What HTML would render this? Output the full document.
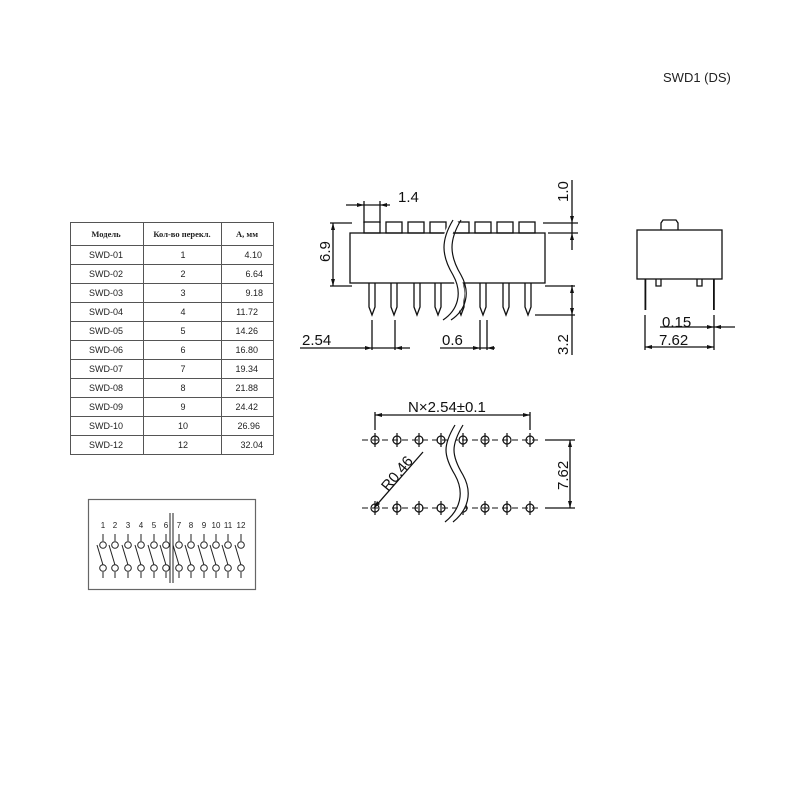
<!DOCTYPE html><html><head><style>body{margin:0;background:#fff}svg{display:block}</style></head><body>
<svg width="800" height="800" viewBox="0 0 800 800" xmlns="http://www.w3.org/2000/svg" font-family="Liberation Sans, sans-serif">
<rect width="800" height="800" fill="#fff"/>
<text x="663" y="82" font-size="13" fill="#222">SWD1 (DS)</text>
<g stroke="#111" stroke-width="1.3" fill="none">
<rect x="350" y="233" width="195" height="50"/>
<rect x="364" y="222" width="16" height="11"/><rect x="386" y="222" width="16" height="11"/><rect x="408" y="222" width="16" height="11"/><rect x="430" y="222" width="16" height="11"/><rect x="453" y="222" width="16" height="11"/><rect x="475" y="222" width="16" height="11"/><rect x="497" y="222" width="16" height="11"/><rect x="519" y="222" width="16" height="11"/>
<path d="M369 283v24l3 8l3-8v-24M391 283v24l3 8l3-8v-24M414 283v24l3 8l3-8v-24M435 283v24l3 8l3-8v-24M458 283v24l3 8l3-8v-24M480 283v24l3 8l3-8v-24M503 283v24l3 8l3-8v-24M525 283v24l3 8l3-8v-24"/>
<path d="M455 220c-12 20-12 35 0 55c10 18 5 35-10 45" stroke="#fff" stroke-width="8"/>
<path d="M453 220c-12 20-12 35 0 55c10 18 5 35-10 45M461 220c-12 20-12 35 0 55c10 18 5 35-10 45" stroke-width="1.2"/>
<path d="M346 205h44M364 201v22M380 201v22M330 223h22M330 286h22M333 223v63M543 223h35M548 233h30M572 180v70M545 286h30M535 315h40M572 285v70M372 320v30M395 320v30M300 348h110M440 348h55M480 320v30M487 320v30"/>
<rect x="637" y="230" width="85" height="49"/>
<path d="M661 230v-7l2-3h13l2 3v7M656 279v7h5v-7M697 279v7h5v-7"/>
<rect x="644.5" y="279" width="1.8" height="31" fill="#111" stroke="none"/><rect x="713" y="279" width="1.8" height="31" fill="#111" stroke="none"/>
<path d="M645 315v35M714 315v35M660 327h75M645 347h69"/>
<path d="M375 412v18M530 412v18M375 415h155M545 440h30M545 508h30M570 440v68M374 508L423 452" />
<path d="M362 440h180M362 508h180" stroke-dasharray="6 4" stroke-width="1"/>
<g stroke-width="1.2">
<circle cx="375" cy="440" r="4"/><circle cx="397" cy="440" r="4"/><circle cx="419" cy="440" r="4"/><circle cx="441" cy="440" r="4"/><circle cx="463" cy="440" r="4"/><circle cx="485" cy="440" r="4"/><circle cx="507" cy="440" r="4"/><circle cx="530" cy="440" r="4"/>
<circle cx="375" cy="508" r="4"/><circle cx="397" cy="508" r="4"/><circle cx="419" cy="508" r="4"/><circle cx="441" cy="508" r="4"/><circle cx="463" cy="508" r="4"/><circle cx="485" cy="508" r="4"/><circle cx="507" cy="508" r="4"/><circle cx="530" cy="508" r="4"/>
<path d="M375 433v14M397 433v14M419 433v14M441 433v14M463 433v14M485 433v14M507 433v14M530 433v14M375 501v14M397 501v14M419 501v14M441 501v14M463 501v14M485 501v14M507 501v14M530 501v14"/>
</g>
<path d="M459 425c-12 20-12 30 0 50c10 18 5 35-10 47" stroke="#fff" stroke-width="8"/>
<path d="M455 425c-12 20-12 30 0 50c10 18 5 35-10 47M463 425c-12 20-12 30 0 50c10 18 5 35-10 47" stroke-width="1.2"/>
</g>
<g fill="#111">
<path d="M364 205l-7-2v4zM380 205l7-2v4zM333 223l-2 7h4zM333 286l-2-7h4zM572 223l-2-7h4zM572 233l-2 7h4zM572 286l-2 7h4zM572 315l-2-7h4zM372 348l-7-2v4zM395 348l7-2v4zM480 348l-7-2v4zM487 348l7-2v4zM645 347l7-2v4zM714 347l-7-2v4zM714 327l7-2v4zM714 327l-7-2v4zM375 415l7-2v4zM530 415l-7-2v4zM570 440l-2 7h4zM570 508l-2-7h4zM374 508l3-7l3 3z"/>
</g>
<g font-size="15" fill="#111">
<text x="398" y="202">1.4</text>
<text x="302" y="345">2.54</text>
<text x="442" y="345">0.6</text>
<text x="662" y="327">0.15</text>
<text x="659" y="345">7.62</text>
<text x="408" y="412">N×2.54±0.1</text>
<text transform="translate(330,262) rotate(-90)">6.9</text>
<text transform="translate(568,202) rotate(-90)">1.0</text>
<text transform="translate(568,355) rotate(-90)">3.2</text>
<text transform="translate(568,490) rotate(-90)">7.62</text>
<text transform="translate(388,492) rotate(-50)">R0.46</text>
</g>
<g stroke="#555" stroke-width="1" fill="none">
<rect x="70.5" y="222.5" width="203" height="232"/>
<path d="M143.5 222v232M221.5 222v232M70 245.5h203M70 264.5h203M70 283.5h203M70 302.5h203M70 321.5h203M70 340.5h203M70 359.5h203M70 378.5h203M70 397.5h203M70 416.5h203M70 435.5h203"/>
</g>
<g font-family="Liberation Serif, serif" font-size="8.5" font-weight="bold" fill="#222" text-anchor="middle">
<text x="106" y="237">Модель</text><text x="182" y="237">Кол-во перекл.</text><text x="247" y="237">А, мм</text>
</g>
<g font-family="Liberation Sans, sans-serif" font-size="9" fill="#222">
<g text-anchor="start">
<text x="89" y="258">SWD-01</text><text x="89" y="277">SWD-02</text><text x="89" y="296">SWD-03</text><text x="89" y="315">SWD-04</text><text x="89" y="334">SWD-05</text><text x="89" y="353">SWD-06</text><text x="89" y="372">SWD-07</text><text x="89" y="391">SWD-08</text><text x="89" y="410">SWD-09</text><text x="89" y="429">SWD-10</text><text x="89" y="448">SWD-12</text>
</g>
<g text-anchor="middle">
<text x="183" y="258">1</text><text x="183" y="277">2</text><text x="183" y="296">3</text><text x="183" y="315">4</text><text x="183" y="334">5</text><text x="183" y="353">6</text><text x="183" y="372">7</text><text x="183" y="391">8</text><text x="183" y="410">9</text><text x="183" y="429">10</text><text x="183" y="448">12</text>
</g>
<g text-anchor="end">
<text x="262" y="258">4.10</text><text x="263" y="277">6.64</text><text x="263" y="296">9.18</text><text x="258" y="315">11.72</text><text x="258" y="334">14.26</text><text x="258" y="353">16.80</text><text x="258" y="372">19.34</text><text x="258" y="391">21.88</text><text x="258" y="410">24.42</text><text x="260" y="429">26.96</text><text x="263" y="448">32.04</text>
</g>
</g>
<rect x="88.5" y="499.5" width="167" height="90" fill="none" stroke="#666" stroke-width="1.2"/>
<g font-size="8" fill="#222" text-anchor="middle">
<text x="103" y="528">1</text><text x="115" y="528">2</text><text x="128" y="528">3</text><text x="141" y="528">4</text><text x="154" y="528">5</text><text x="166" y="528">6</text><text x="179" y="528">7</text><text x="191" y="528">8</text><text x="204" y="528">9</text><text x="216" y="528">10</text><text x="228" y="528">11</text><text x="241" y="528">12</text>
</g>
<g stroke="#222" stroke-width="1" fill="#fff">
<path d="M170 513v70M173 513v70" fill="none"/>
<path d="M103 534v7M103 572v6M97 545l6 20M115 534v7M115 572v6M109 545l6 20M128 534v7M128 572v6M122 545l6 20M141 534v7M141 572v6M135 545l6 20M154 534v7M154 572v6M148 545l6 20M166 534v7M166 572v6M160 545l6 20M179 534v7M179 572v6M173 545l6 20M191 534v7M191 572v6M185 545l6 20M204 534v7M204 572v6M198 545l6 20M216 534v7M216 572v6M210 545l6 20M228 534v7M228 572v6M222 545l6 20M241 534v7M241 572v6M235 545l6 20" fill="none"/>
<circle cx="103" cy="545" r="3.3"/><circle cx="115" cy="545" r="3.3"/><circle cx="128" cy="545" r="3.3"/><circle cx="141" cy="545" r="3.3"/><circle cx="154" cy="545" r="3.3"/><circle cx="166" cy="545" r="3.3"/><circle cx="179" cy="545" r="3.3"/><circle cx="191" cy="545" r="3.3"/><circle cx="204" cy="545" r="3.3"/><circle cx="216" cy="545" r="3.3"/><circle cx="228" cy="545" r="3.3"/><circle cx="241" cy="545" r="3.3"/>
<circle cx="103" cy="568" r="3.3"/><circle cx="115" cy="568" r="3.3"/><circle cx="128" cy="568" r="3.3"/><circle cx="141" cy="568" r="3.3"/><circle cx="154" cy="568" r="3.3"/><circle cx="166" cy="568" r="3.3"/><circle cx="179" cy="568" r="3.3"/><circle cx="191" cy="568" r="3.3"/><circle cx="204" cy="568" r="3.3"/><circle cx="216" cy="568" r="3.3"/><circle cx="228" cy="568" r="3.3"/><circle cx="241" cy="568" r="3.3"/>
</g>
</svg>
</body></html>
